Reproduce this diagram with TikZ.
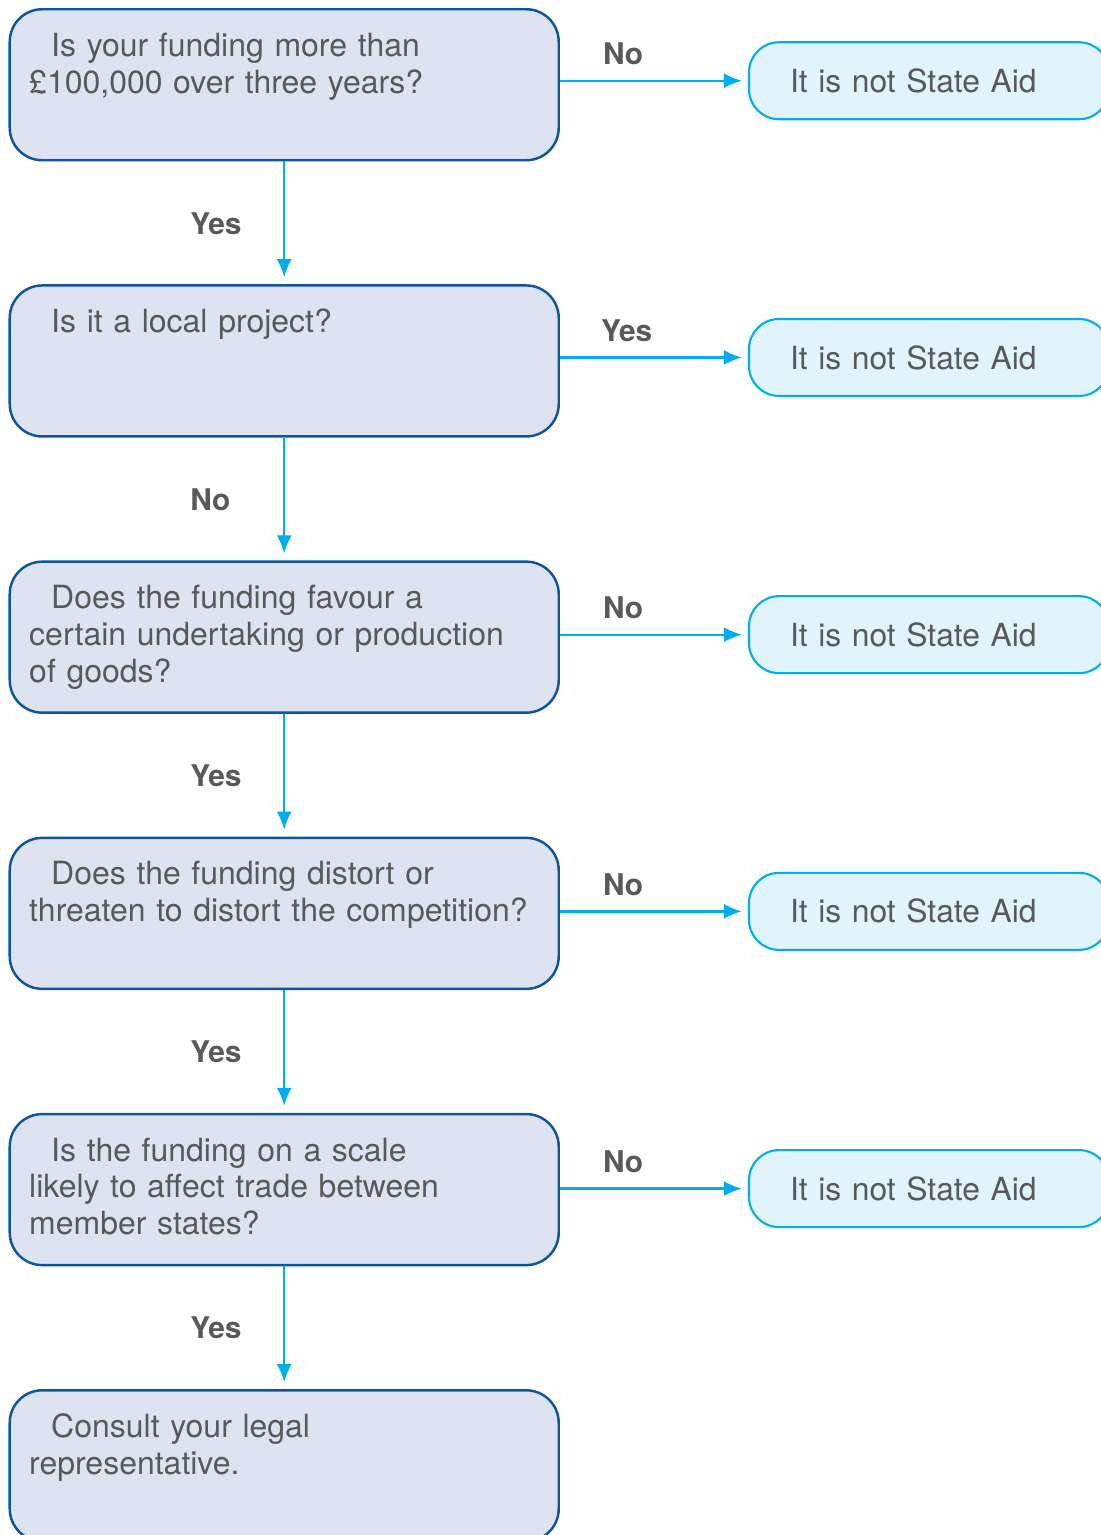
\documentclass[tikz,border=0pt]{standalone}
\usepackage{fontspec}
\setmainfont{TeX Gyre Heros}
\usetikzlibrary{positioning,arrows.meta}
\definecolor{qfill}{HTML}{DDE3F0}
\definecolor{qline}{HTML}{0D55A0}
\definecolor{nfill}{HTML}{E1F3FB}
\definecolor{nline}{HTML}{00AEEF}
\definecolor{txtgray}{HTML}{58595B}

\begin{document}
\begin{tikzpicture}[node distance=2.455cm,>={Latex[length=3.6mm,width=3mm]},
	question/.style={rectangle, rounded corners=0.65cm, draw=qline, fill=qfill, line width=1.4pt, text=txtgray, font={\fontsize{18.2}{21}\selectfont}, text width=10.2cm, align=left, inner xsep=0.38cm, inner ysep=0pt, minimum width=10.98cm, text height=0.94cm, text depth=2.08cm},
	notaid/.style={rectangle, rounded corners=0.6cm, draw=nline, fill=nfill, line width=1.2pt, text=txtgray, font={\fontsize{18.1}{21}\selectfont}, text width=5.56cm, align=left, inner xsep=0.82cm, minimum width=7.2cm, minimum height=1.54cm},
	flow/.style={->, draw=nline, line width=1.3pt},
	answer/.style={text=txtgray, font={\fontsize{17}{20}\selectfont\bfseries}, inner sep=0pt, anchor=base west}]
	\useasboundingbox (0,0) rectangle (22.02,-30.7);
	\clip (0,0) rectangle (22.02,-30.7);
	\node [question, anchor=north west] (fund) at (0.17,-0.16) {\hspace*{0.44cm}Is your funding more than\\£100,000 over three years?};
	\node [question, below=of fund] (local) {\hspace*{0.44cm}Is it a local project?};
	\node [question, below=of local] (favour) {\hspace*{0.44cm}Does the funding favour a\\certain undertaking or production\\of goods?};
	\node [question, below=of favour] (distort) {\hspace*{0.44cm}Does the funding distort or\\threaten to distort the competition?};
	\node [question, below=of distort] (trade) {\hspace*{0.44cm}Is the funding on a scale\\likely to affect trade between\\member states?};
	\node [question, below=of trade] (legal) {\hspace*{0.44cm}Consult your legal\\representative.};
	\node [notaid, right=3.76cm of fund, yshift=0.08cm] (nofund) {It is not State Aid};
	\node [notaid, right=3.76cm of local, yshift=0.07cm] (nolocal) {It is not State Aid};
	\node [notaid, right=3.76cm of favour, yshift=0.05cm] (nofavour) {It is not State Aid};
	\node [notaid, right=3.76cm of distort, yshift=0.04cm] (nodistort) {It is not State Aid};
	\node [notaid, right=3.76cm of trade, yshift=0.02cm] (notrade) {It is not State Aid};
	\draw [flow, shorten >=0.14cm] (fund) -- node [answer, pos=0.592, xshift=-1.9cm] {Yes} (local);
	\draw [flow, shorten >=0.14cm] (local) -- node [answer, pos=0.592, xshift=-1.9cm] {No} (favour);
	\draw [flow, shorten >=0.14cm] (favour) -- node [answer, pos=0.592, xshift=-1.9cm] {Yes} (distort);
	\draw [flow, shorten >=0.14cm] (distort) -- node [answer, pos=0.592, xshift=-1.9cm] {Yes} (trade);
	\draw [flow, shorten >=0.14cm] (trade) -- node [answer, pos=0.592, xshift=-1.9cm] {Yes} (legal);
	\draw [flow, shorten >=0.12cm] (nofund.west -| fund.east) -- node [answer, pos=0, xshift=0.84cm, yshift=0.32cm] {No} (nofund.west);
	\draw [flow, shorten >=0.12cm] (nolocal.west -| local.east) -- node [answer, pos=0, xshift=0.8cm, yshift=0.32cm] {Yes} (nolocal.west);
	\draw [flow, shorten >=0.12cm] (nofavour.west -| favour.east) -- node [answer, pos=0, xshift=0.84cm, yshift=0.32cm] {No} (nofavour.west);
	\draw [flow, shorten >=0.12cm] (nodistort.west -| distort.east) -- node [answer, pos=0, xshift=0.84cm, yshift=0.32cm] {No} (nodistort.west);
	\draw [flow, shorten >=0.12cm] (notrade.west -| trade.east) -- node [answer, pos=0, xshift=0.84cm, yshift=0.32cm] {No} (notrade.west);
\end{tikzpicture}
\end{document}
